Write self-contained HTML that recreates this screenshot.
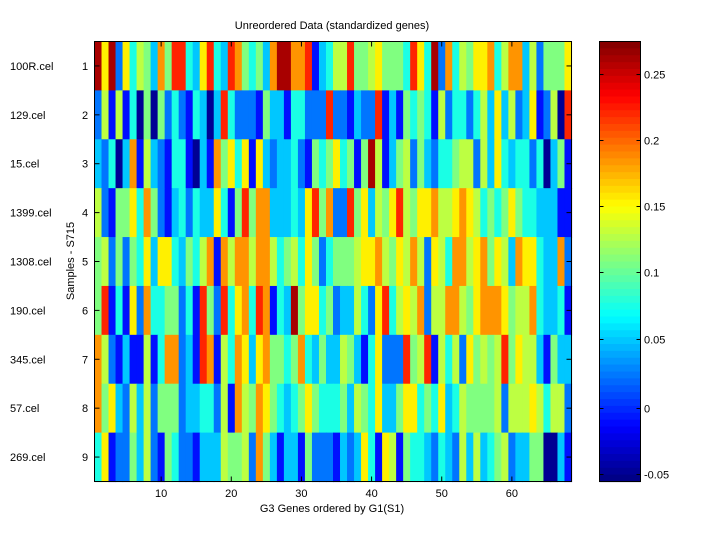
<!DOCTYPE html>
<html><head><meta charset="utf-8"><style>
body{margin:0;background:#fff;}
svg text{font-family:"Liberation Sans",sans-serif;font-size:11px;fill:#000;}
</style></head><body>
<svg id="s" width="720" height="540" xmlns="http://www.w3.org/2000/svg">
<rect width="720" height="540" fill="#fff"/>
<g id="hm"></g>
<g id="cb"></g>
<rect x="94.5" y="41.5" width="477" height="440" fill="none" stroke="#000" stroke-width="1"/>
<rect x="599.5" y="41.5" width="41" height="440" fill="none" stroke="#000" stroke-width="1"/>
<g id="ticks" stroke="#000" stroke-width="1"></g>
<text x="332" y="29" text-anchor="middle">Unreordered Data (standardized genes)</text>
<text x="332" y="512" text-anchor="middle">G3 Genes ordered by G1(S1)</text>
<text transform="translate(74,261) rotate(-90)" text-anchor="middle">Samples - S715</text>
<g id="lab"></g>
</svg>
<script>
var rows=[
"a7a2746538"+"5994379439"+"854538aa88"+"9134669556"+"75554974a2"+"8465778468"+"83625557",
"2616140505"+"242143039"+"4222153314"+"4222922132"+"2913154541"+"6244246373"+"623712609",
"3240381632"+"1441031857"+"4717323342"+"154574515a"+"6135625324"+"4566263743"+"44240351",
"6215574852"+"1342433741"+"5958833343"+"7958229573"+"6579657786"+"6787645457"+"54433311",
"5625254737"+"7435468186"+"8868864564"+"7524555677"+"8657686276"+"4886785763"+"87743382",
"5914172844"+"5524195294"+"78498143a5"+"7745233642"+"7946768266"+"8865788875"+"66843341",
"8621311614"+"8823198164"+"8737855458"+"4353365314"+"7222956916"+"4627565695"+"76631533",
"8573263625"+"5523344261"+"8658754345"+"7544453654"+"7335774547"+"3465555626"+"66764662",
"4712253621"+"5422133365"+"5628531331"+"5222132374"+"1761544324"+"3263634562"+"33550031"
];
var T=[0.02,0.14,0.24,0.32,0.40,0.50,0.56,0.64,0.73,0.84,0.96];
function jet(t){function c(x){return Math.round(255*Math.max(0,Math.min(1,x)));}
return "rgb("+c(1.5-Math.abs(4*t-3))+","+c(1.5-Math.abs(4*t-2))+","+c(1.5-Math.abs(4*t-1))+")";}
var ns="http://www.w3.org/2000/svg";
function el(n,a,p){var e=document.createElementNS(ns,n);for(var k in a)e.setAttribute(k,a[k]);p.appendChild(e);return e;}
var hm=document.getElementById("hm"),N=68,cw=477/N,rh=440/9;
rows.forEach(function(r,i){
 for(var j=0;j<N;j++){var ch=r[Math.min(j,r.length-1)];var v=ch=="a"?10:+ch;
  el("rect",{x:94.5+j*cw,y:41.5+i*rh,width:cw+0.6,height:rh+0.6,fill:jet(T[v])},hm);}
});
var cb=document.getElementById("cb"),n=64;
for(var k=0;k<n;k++){el("rect",{x:599.5,y:41.5+k*440/n,width:41,height:440/n+0.6,fill:jet(1-(k+0.5)/n)},cb);}
var tk=document.getElementById("ticks"),lab=document.getElementById("lab");
var names=["100R.cel","129.cel","15.cel","1399.cel","1308.cel","190.cel","345.cel","57.cel","269.cel"];
for(var i=0;i<9;i++){var y=41.5+(i+0.5)*rh;
 el("line",{x1:94.5,y1:y,x2:99.5,y2:y},tk);el("line",{x1:571.5,y1:y,x2:566.5,y2:y},tk);
 var t=el("text",{x:85,y:y+4,"text-anchor":"middle"},lab);t.textContent=i+1;
 t=el("text",{x:10,y:y+4},lab);t.textContent=names[i];}
for(var c=10;c<=60;c+=10){var x=94.5+(c-0.5)*cw;
 el("line",{x1:x,y1:41.5,x2:x,y2:46.5},tk);el("line",{x1:x,y1:481.5,x2:x,y2:476.5},tk);
 var t=el("text",{x:x,y:497,"text-anchor":"middle"},lab);t.textContent=c;}
var cv=[["0.25",74],["0.2",140],["0.15",206],["0.1",272],["0.05",339],["0",408],["-0.05",474]];
cv.forEach(function(p){var y=p[1]+0.5;
 el("line",{x1:599.5,y1:y,x2:603.5,y2:y},tk);el("line",{x1:640.5,y1:y,x2:636.5,y2:y},tk);
 var t=el("text",{x:644,y:y+4},lab);t.textContent=p[0];});
</script>
</body></html>
